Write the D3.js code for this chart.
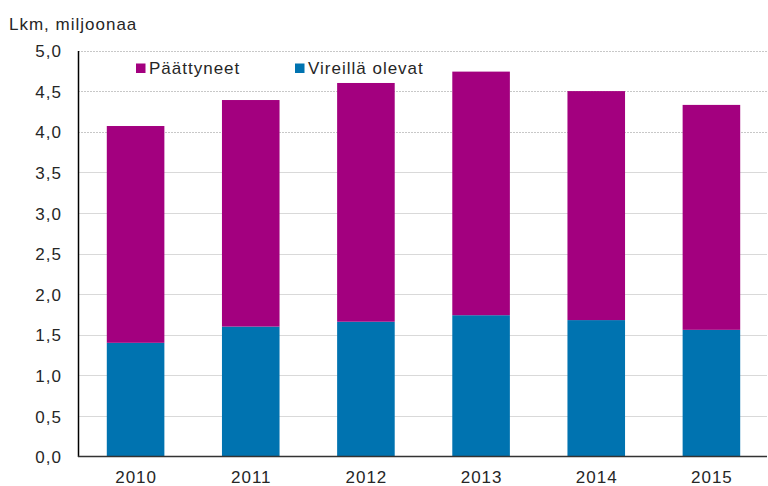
<!DOCTYPE html>
<html>
<head>
<meta charset="utf-8">
<script src="https://cdn.jsdelivr.net/npm/d3@7"></script>
<style>
  body { margin: 0; background: #fff; }
  svg text { font-family: "Liberation Sans", Arial, sans-serif; fill: #262626; letter-spacing: 1px; }
</style>
</head>
<body>
<svg id="chart" width="768" height="486"></svg>
<script>
const years = ["2010", "2011", "2012", "2013", "2014", "2015"];
const vireilla = [1.40, 1.60, 1.66, 1.74, 1.68, 1.56];
const paattyneet = [2.67, 2.79, 2.94, 3.00, 2.82, 2.77];
const yTicks = [0, 0.5, 1, 1.5, 2, 2.5, 3, 3.5, 4, 4.5, 5];
const seriesNames = ["Päättyneet", "Vireillä olevat"];
const colors = { "Päättyneet": "#a3007f", "Vireillä olevat": "#0073b0" };

const svg = d3.select("#chart");
const plotLeft = 78, plotRight = 769, plotTop = 50.5, plotBottom = 456.5;

const x = d3.scaleBand().domain(years).range([plotLeft, plotRight])
    .paddingInner(0.5).paddingOuter(0.25);
const y = d3.scaleLinear().domain([0, 5]).range([plotBottom, plotTop]);

// gridlines
svg.append("g").selectAll("line")
    .data(yTicks.filter(d => d > 0))
    .enter()
    .append("line")
    .attr("x1", plotLeft)
    .attr("x2", 767)
    .attr("y1", d => Math.round(y(d)) + 0.5)
    .attr("y2", d => Math.round(y(d)) + 0.5)
    .attr("stroke", d => d >= 4 ? "#c8c8c8" : "#d9d9d9")
    .attr("stroke-dasharray", d => d >= 4 ? "2,1" : null)
    .attr("stroke-width", 1);

// stacked bars
const rows = years.map((yr, i) => ({ year: yr, "Vireillä olevat": vireilla[i], "Päättyneet": paattyneet[i] }));
const stack = d3.stack().keys(["Vireillä olevat", "Päättyneet"]);
const layers = stack(rows);

svg.append("g").selectAll("g")
    .data(layers)
    .enter()
    .append("g")
    .attr("fill", d => colors[d.key])
    .selectAll("rect")
    .data(d => d)
    .enter()
    .append("rect")
    .attr("x", d => x(d.data.year))
    .attr("y", d => y(d[1]))
    .attr("width", x.bandwidth())
    .attr("height", d => y(d[0]) - y(d[1]));

// y axis
const yAxis = svg.append("g")
    .attr("transform", `translate(${plotLeft},0)`)
    .call(d3.axisLeft(y).tickValues(yTicks).tickSize(0).tickPadding(16)
      .tickFormat(d => d3.format(".1f")(d).replace(".", ",")));
yAxis.select(".domain").attr("stroke", "#000").attr("stroke-width", 1.5);
yAxis.selectAll("text").style("font-size", "17px").attr("dy", "0.36em");

// x axis
const xAxis = svg.append("g")
    .attr("transform", `translate(0,${plotBottom})`)
    .call(d3.axisBottom(x).tickSize(0).tickPadding(14));
xAxis.select(".domain").attr("stroke", "#333").attr("stroke-width", 1.5)
    .attr("d", `M${plotLeft},0H767`);
xAxis.selectAll("text").style("font-size", "17px").attr("dx", "0.5px");

// y title
svg.append("text")
    .attr("x", 9)
    .attr("y", 30)
    .style("font-size", "17px")
    .text("Lkm, miljoonaa");

// legend
const legendX = [136, 295];
const legend = svg.append("g").selectAll("g")
    .data(seriesNames)
    .enter()
    .append("g")
    .attr("transform", (d, i) => `translate(${legendX[i]},63.5)`);
legend.append("rect")
    .attr("width", 9.5)
    .attr("height", 9.5)
    .attr("fill", d => colors[d]);
legend.append("text")
    .attr("x", 13)
    .attr("y", 10.5)
    .style("font-size", "17px")
    .text(d => d);
</script>
</body>
</html>
